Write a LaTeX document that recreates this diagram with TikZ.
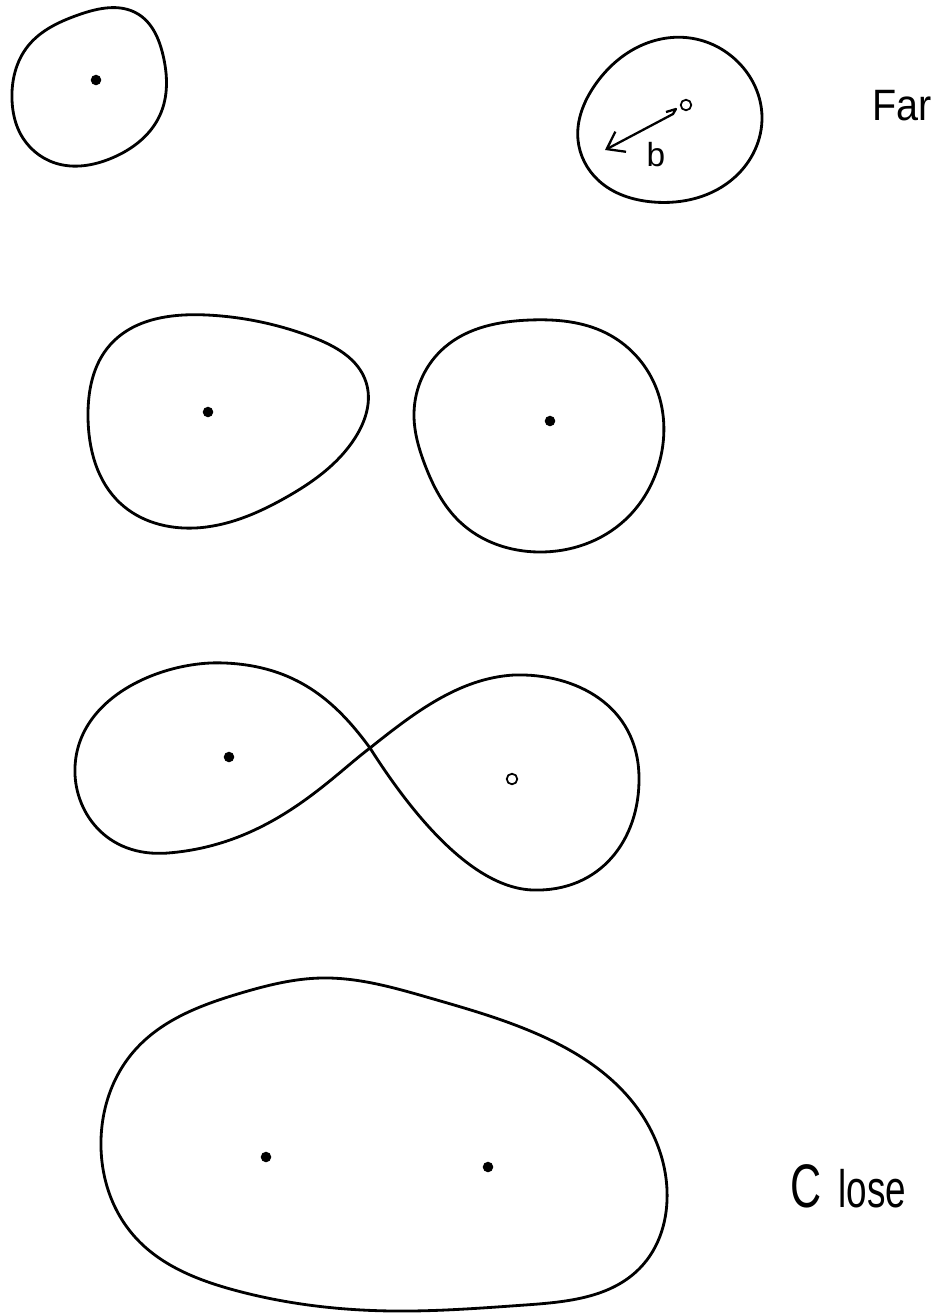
\documentclass[tikz,border=0pt]{standalone}
\usepackage{fontspec}
\setmainfont{Liberation Sans}
\usetikzlibrary{arrows.meta,hobby}
\begin{document}
\begin{tikzpicture}[x=0.02cm,y=-0.02cm,
  blob/.style={line width=1.6pt, line join=round},
  fdot/.style={circle, fill=black, inner sep=0pt, minimum size=6pt},
  odot/.style={circle, draw=black, line width=1pt, fill=white, inner sep=0pt, minimum size=6pt},
  lbl/.style={inner sep=0pt}]
\useasboundingbox (0,0) rectangle (945,1316);
% row 1 left
\draw[blob] plot[closed hobby] coordinates {(12,100) (28,46) (78,15) (138,14) (163,55) (160,115) (112,158) (55,163) (20,133)};
\node[fdot] (d1) at (96,80) {};
% row 1 right
\draw[blob] plot[closed hobby] coordinates {(578,140) (595,85) (640,46) (690,38) (738,62) (762,117) (735,177) (653,202) (598,180)};
\node[odot] (d2) at (686,105) {};
\coordinate (bt) at (673,114);
\coordinate (bh) at (605,150);
\draw[line width=1.3pt, line join=round, -{Straight Barb[length=9pt,width=13pt,line width=1.3pt]}] (666,112) -- (676,109) -- (bt) -- (bh);
\node[lbl, font=\fontsize{19}{19}\selectfont] (b) at (656,155) {b};
\node[lbl, font=\fontsize{25}{25}\selectfont, xscale=0.9, anchor=base] (far) at (902,120) {Far};
% row 2 left
\draw[blob] plot[closed hobby] coordinates {(88,417) (110,345) (207,315) (312,337) (366,382) (355,438) (285,498) (195,528) (120,503)};
\node[fdot] (d3) at (208,412) {};
% row 2 right
\draw[blob] plot[closed hobby] coordinates {(414,413) (445,347) (530,320) (606,333) (655,385) (660,460) (625,520) (539,552) (460,522) (425,465)};
\node[fdot] (d4) at (550,421) {};
% row 3 figure eight
\coordinate (x) at (370,748);
\draw[blob] (x) .. controls (400,795) and (465,888) .. (533,890)
  .. controls (600,892) and (640,840) .. (639,777)
  .. controls (638,705) and (575,673) .. (514,675)
  .. controls (460,678) and (415,712) .. (x)
  .. controls (330,778) and (270,845) .. (168,853)
  .. controls (105,858) and (73,810) .. (75,767)
  .. controls (78,695) and (165,660) .. (225,663)
  .. controls (295,666) and (335,700) .. (x) -- cycle;
\node[fdot] (d5) at (229,757) {};
\node[odot] (d6) at (512,779) {};
% row 4 big blob
\draw[blob] plot[closed hobby] coordinates {(101,1140) (135,1050) (241,993) (321,978) (430,998) (544,1037) (631,1100) (667,1190) (640,1268) (525,1305) (393,1311) (234,1290) (135,1237)};
\node[fdot] (d7) at (266,1157) {};
\node[fdot] (d8) at (488,1167) {};
\node[lbl, xscale=0.7, anchor=base] (close) at (848,1207) {\fontsize{35}{35}\selectfont C\kern14pt\fontsize{30}{30}\selectfont lose};
\end{tikzpicture}
\end{document}
